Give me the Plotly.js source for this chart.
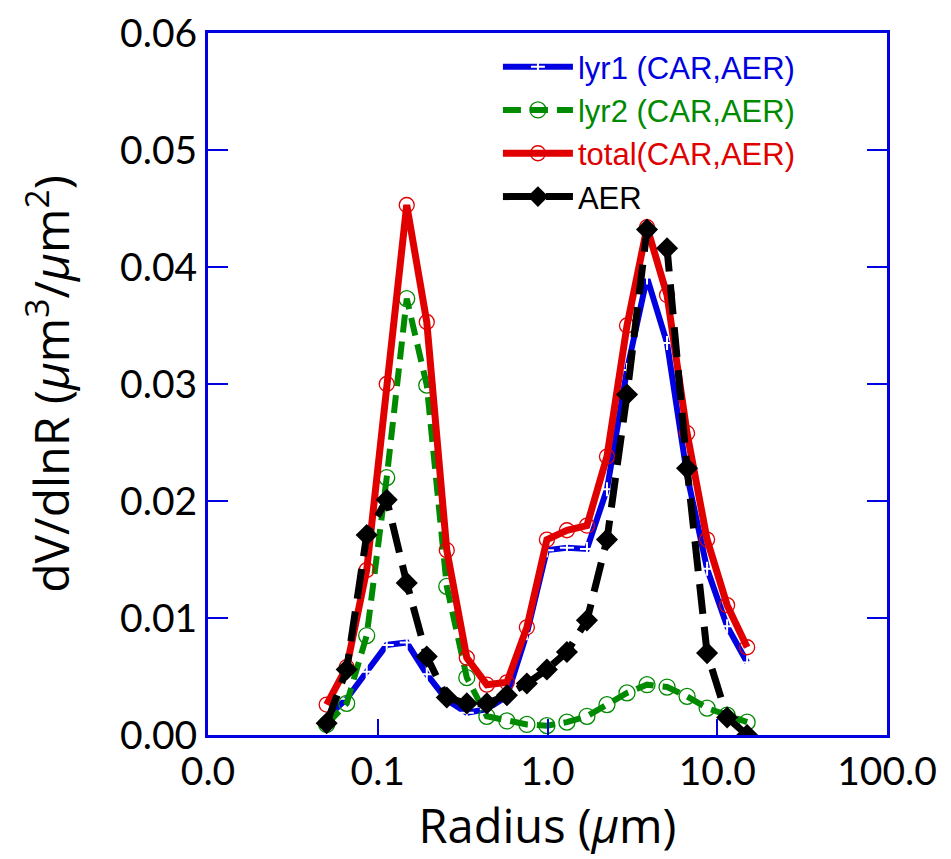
<!DOCTYPE html>
<html>
<head>
<meta charset="utf-8">
<script src="https://cdn.plot.ly/plotly-3.0.1.min.js"></script>
<style>html,body{margin:0;padding:0;background:#fff;}#chart{width:951px;height:859px;}</style>
</head>
<body>
<div id="chart"></div>
<script>
// Radius bins (µm)
const radius = [0.05, 0.065604, 0.086077, 0.112939, 0.148184, 0.194429, 0.255105, 0.334716, 0.439173, 0.576227, 0.756052, 0.991996, 1.301571, 1.707757, 2.240702, 2.939966, 3.857452, 5.061260, 6.640745, 8.713145, 11.432287, 15.0];
// Series values dV/dlnR
const lyr1 = [0.0015, 0.0031, 0.0054, 0.0077, 0.0079, 0.0052, 0.0030, 0.0019, 0.0022, 0.0033, 0.0087, 0.0158, 0.0160, 0.0159, 0.0210, 0.0312, 0.0391, 0.0335, 0.0222, 0.0142, 0.0093, 0.0062];
const lyr2 = [0.0009, 0.0027, 0.0085, 0.0220, 0.0373, 0.0299, 0.0127, 0.0049, 0.0016, 0.0012, 0.0009, 0.0008, 0.0011, 0.0016, 0.0026, 0.0036, 0.0043, 0.0041, 0.0033, 0.0023, 0.0017, 0.0011];
const total = [0.0026, 0.0058, 0.0141, 0.0300, 0.0453, 0.0353, 0.0158, 0.0066, 0.0043, 0.0045, 0.0092, 0.0167, 0.0175, 0.0179, 0.0238, 0.0350, 0.0434, 0.0376, 0.0258, 0.0167, 0.0111, 0.0075];
const aer = [0.0010, 0.0056, 0.0171, 0.0201, 0.0130, 0.0067, 0.0032, 0.0027, 0.0027, 0.0034, 0.0044, 0.0056, 0.0071, 0.0098, 0.0167, 0.0291, 0.0432, 0.0416, 0.0228, 0.0070, 0.0015, 0.0000];
// Series names
const names = ['lyr1 (CAR,AER)', 'lyr2 (CAR,AER)', 'total(CAR,AER)', 'AER'];
// Tick labels
const xTickVals = [0.01, 0.1, 1, 10, 100];
const xTickText = ['0.0', '0.1', '1.0', '10.0', '100.0'];
const yTickVals = [0, 0.01, 0.02, 0.03, 0.04, 0.05, 0.06];
const yTickText = ['0.00', '0.01', '0.02', '0.03', '0.04', '0.05', '0.06'];

const BLUE = '#0000e0', GREEN = '#008a00', RED = '#e00000', BLACK = '#000000';
const lbl = (t, c) => '<span style="color:' + c + '">' + t + '</span>';

const traces = [
  {x: radius, y: lyr1, name: lbl(names[0], BLUE), mode: 'lines+markers', type: 'scatter',
   line: {color: BLUE, width: 6},
   marker: {symbol: 'cross-thin-open', size: 10, color: '#ffffff', line: {color: '#ffffff', width: 2}}},
  {x: radius, y: lyr2, name: lbl(names[1], GREEN), mode: 'lines+markers', type: 'scatter',
   line: {color: GREEN, width: 6, dash: '18px,9px'},
   marker: {symbol: 'circle-open', size: 16, color: GREEN, line: {color: GREEN, width: 1.3}}},
  {x: radius, y: total, name: lbl(names[2], RED), mode: 'lines+markers', type: 'scatter',
   line: {color: RED, width: 7},
   marker: {symbol: 'circle-open', size: 15, color: RED, line: {color: RED, width: 1.3}}},
  {x: radius, y: aer, name: lbl(names[3], BLACK), mode: 'lines+markers', type: 'scatter',
   line: {color: BLACK, width: 7, dash: '30px,13px'},
   marker: {symbol: 'diamond', size: 17, color: BLACK}}
];

const tickFont = {family: 'Lato, "Open Sans", sans-serif', size: 39, color: '#000'};
const titleFamily = '"Open Sans", Lato, sans-serif';
const layout = {
  width: 951, height: 859,
  margin: {l: 208, r: 64, t: 33, b: 124, pad: 0},
  paper_bgcolor: '#fff', plot_bgcolor: '#fff',
  showlegend: true,
  legend: {x: 0.427, y: 0.99, xanchor: 'left', yanchor: 'top', bgcolor: 'rgba(0,0,0,0)',
           font: {family: '"Liberation Sans", Arial, sans-serif', size: 31, color: '#000'},
           tracegroupgap: 0, itemwidth: 70},
  xaxis: {type: 'log', range: [-2, 2], tickvals: xTickVals, ticktext: xTickText,
          ticks: 'inside', ticklen: 16, tickwidth: 2, tickcolor: BLUE,
          showline: true, linecolor: BLUE, linewidth: 3, mirror: true,
          showgrid: false, zeroline: false, tickfont: tickFont,
          title: {text: 'Radius (<i>μ</i>m)', font: {family: titleFamily, size: 47, color: '#000'}, standoff: 14}},
  yaxis: {range: [0, 0.06], tickvals: yTickVals, ticktext: yTickText,
          ticks: 'inside', ticklen: 20, tickwidth: 2, tickcolor: BLUE,
          showline: true, linecolor: BLUE, linewidth: 3, mirror: 'ticks',
          showgrid: false, zeroline: false, tickfont: tickFont,
          title: {text: 'dV/dlnR (<i>μ</i>m<sup>3</sup>/<i>μ</i>m<sup>2</sup>)', font: {family: titleFamily, size: 48, color: '#000'}, standoff: 36}}
};

Plotly.newPlot('chart', traces, layout, {displayModeBar: false, staticPlot: true});
</script>
</body>
</html>
